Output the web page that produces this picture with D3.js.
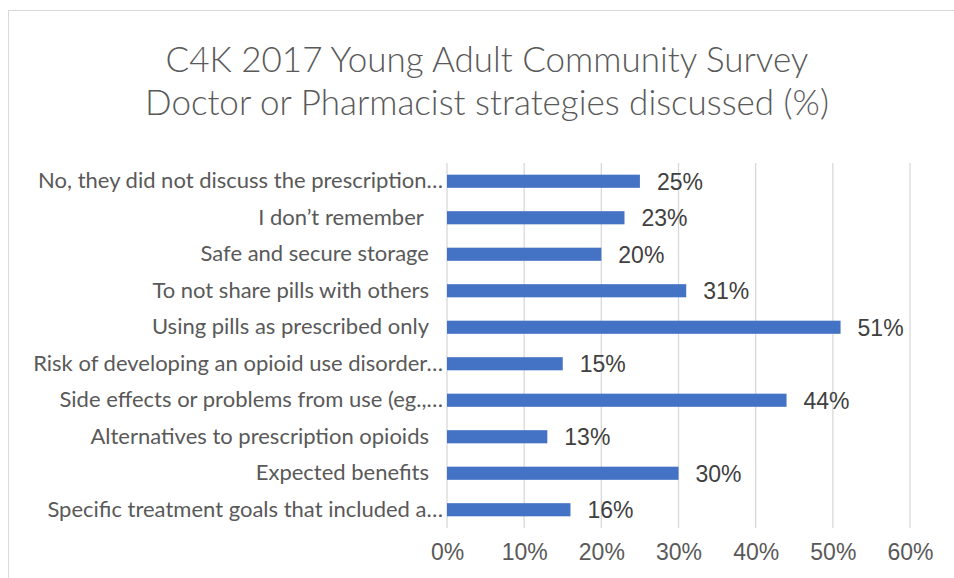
<!DOCTYPE html>
<html><head><meta charset="utf-8">
<script src="https://cdn.jsdelivr.net/npm/d3@7"></script>
<style>
body{margin:0;background:#fff;}
svg{display:block;}
</style></head>
<body>
<svg id="chart" width="954" height="578"></svg>
<script>
const titleLines = ["C4K 2017 Young Adult Community Survey", "Doctor or Pharmacist strategies discussed (%)"];
const categories = [
  "No, they did not discuss the prescription…",
  "I don’t remember ",
  "Safe and secure storage",
  "To not share pills with others",
  "Using pills as prescribed only",
  "Risk of developing an opioid use disorder…",
  "Side effects or problems from use (eg.,…",
  "Alternatives to prescription opioids",
  "Expected benefits",
  "Specific treatment goals that included a…"
];
const values = [25, 23, 20, 31, 51, 15, 44, 13, 30, 16];
const tickValues = [0, 10, 20, 30, 40, 50, 60];

const svg = d3.select("#chart");
const plot = {left: 447, right: 910, top: 163, bottom: 528};

// border
svg.append("rect").attr("x", 8.5).attr("y", 10.5).attr("width", 960).attr("height", 600)
  .attr("fill", "none").attr("stroke", "#d9d9d9").attr("stroke-width", 1);

// title
const title = svg.append("text").attr("text-anchor", "middle")
  .attr("font-family", "Lato, 'Open Sans', sans-serif").attr("font-weight", 300)
  .attr("font-size", 35).attr("fill", "#595959");
titleLines.forEach((t, i) => {
  title.append("tspan").attr("x", 487).attr("y", 72 + i * 43).text(t);
});

const x = d3.scaleLinear().domain([0, 60]).range([plot.left, plot.right]);
const y = d3.scaleBand().domain(categories).range([plot.top, plot.bottom]).paddingInner(0.64).paddingOuter(0.32);

// gridlines
svg.append("g").selectAll("line").data(tickValues).join("line")
  .attr("x1", d => x(d)).attr("x2", d => x(d))
  .attr("y1", plot.top).attr("y2", plot.bottom)
  .attr("stroke", "#d9d9d9").attr("stroke-width", 1.3);

// x axis labels
const xAxis = d3.axisBottom(x).tickValues(tickValues).tickSize(0).tickPadding(16).tickFormat(d => d + "%");
const gx = svg.append("g").attr("transform", `translate(0,${plot.bottom})`).call(xAxis);
gx.select(".domain").remove();
gx.selectAll("text").attr("font-family", "Liberation Sans, Arial, sans-serif")
  .attr("font-size", 23).attr("fill", "#595959");

// bars
svg.append("g").selectAll("rect").data(values).join("rect")
  .attr("x", x(0)).attr("y", (d, i) => y(categories[i]))
  .attr("width", d => x(d) - x(0)).attr("height", y.bandwidth())
  .attr("fill", "#4472c4");

// value labels
svg.append("g").selectAll("text").data(values).join("text")
  .attr("x", d => x(d) + 17).attr("y", (d, i) => y(categories[i]) + y.bandwidth() / 2)
  .attr("dy", "0.36em")
  .attr("font-family", "Liberation Sans, Arial, sans-serif").attr("font-size", 23)
  .attr("fill", "#404040").text(d => d + "%");

// category labels
const yAxis = d3.axisLeft(y).tickSize(0).tickPadding(4);
const gy = svg.append("g").attr("transform", `translate(${plot.left},0)`).call(yAxis);
gy.select(".domain").remove();
gy.selectAll("text")
  .attr("font-family", "Lato, 'Open Sans', sans-serif").attr("font-size", 22)
  .attr("fill", "#595959").style("white-space", "pre")
  .attr("x", d => d.endsWith("…") ? -4 : -18);
</script>
</body></html>
